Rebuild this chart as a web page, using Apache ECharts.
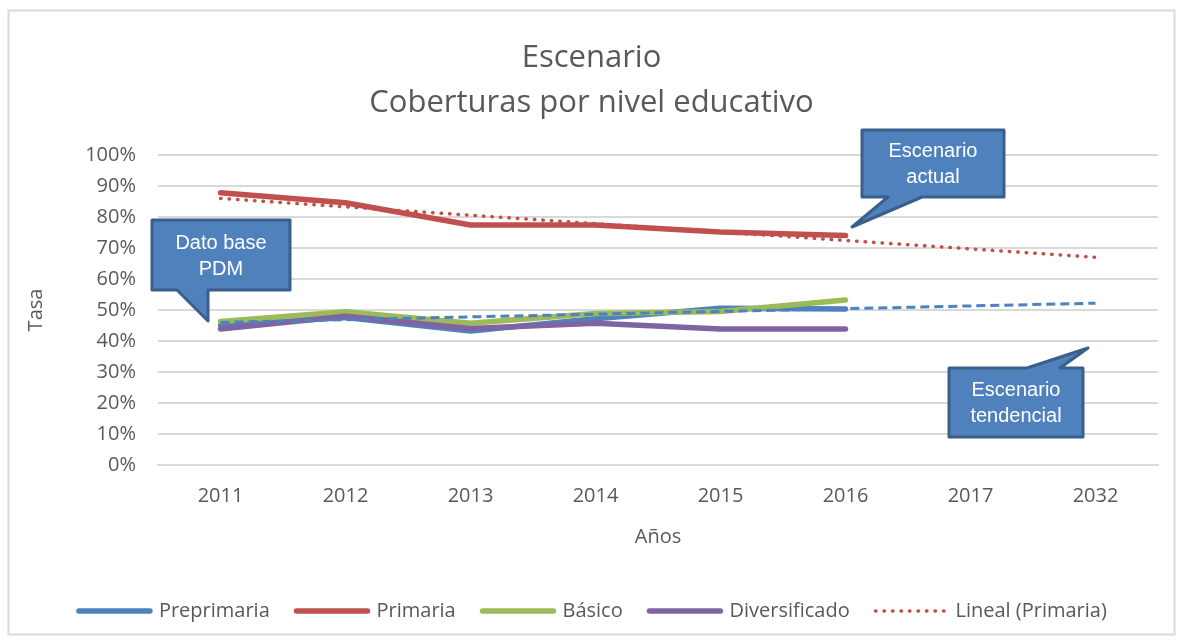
<!DOCTYPE html>
<html>
<head>
<meta charset="utf-8">
<script src="https://cdn.jsdelivr.net/npm/echarts@6/dist/echarts.min.js"></script>
<style>
  html, body { margin: 0; padding: 0; background: #fff; }
  #chart { width: 1183px; height: 641px; }
</style>
</head>
<body>
<div id="chart"></div>
<script>
const years = ['2011', '2012', '2013', '2014', '2015', '2016', '2017', '2032']
const preprimaria = [45.2, 47.6, 43.2, 47.2, 50.6, 50.3]
const primaria = [87.8, 84.6, 77.4, 77.4, 75.2, 74.0]
const basico = [46.3, 49.4, 45.7, 48.9, 49.5, 53.2]
const diversificado = [43.9, 48.0, 44.0, 45.7, 43.9, 43.9]
// trendlines read at both ends, straight line in between
const linealPrimaria = [86.0, null, null, null, null, null, null, 67.0]
const linealPreprimaria = [46.0, null, null, null, null, null, null, 52.2]
const yTicks = { min: 0, max: 100, interval: 10 }

const font = '"Open Sans", "Noto Sans", sans-serif'
const calloutFont = '"Liberation Sans Narrow", "Liberation Sans", sans-serif'
const grey = '#595959'

function solid(name, data, color) {
  return {
    name: name,
    type: 'line',
    data: data,
    symbol: 'none',
    color: color,
    lineStyle: { width: 5.5, color: color, cap: 'round', join: 'round' }
  }
}

function legendItem(name, color) {
  return {
    name: name,
    itemStyle: { opacity: 0 },
    lineStyle: { width: 5.5, color: color, cap: 'round' }
  }
}

function callout(points, lines, cx, cy) {
  return [{
    type: 'polygon',
    shape: { points: points },
    style: { fill: '#4f81bd', stroke: '#3a5f8b', lineWidth: 3, lineJoin: 'round' },
    z: 100
  }, {
    type: 'text',
    x: cx,
    y: cy,
    style: {
      text: lines,
      fill: '#fff',
      font: '20px ' + calloutFont,
      align: 'center',
      verticalAlign: 'middle',
      lineHeight: 26
    },
    z: 101
  }]
}

const myChart = echarts.init(document.getElementById('chart'))
myChart.setOption({
  animation: false,
  backgroundColor: '#fff',
  title: {
    text: 'Escenario\nCoberturas por nivel educativo',
    left: 'center',
    top: 31,
    textStyle: {
      fontFamily: font,
      fontSize: 31,
      fontWeight: 'normal',
      color: grey,
      lineHeight: 45
    }
  },
  legend: {
    data: [
      legendItem('Preprimaria', '#4f81bd'),
      legendItem('Primaria', '#c0504d'),
      legendItem('Básico', '#9bbb59'),
      legendItem('Diversificado', '#8064a2'),
      {
        name: 'Lineal (Primaria)',
        itemStyle: { opacity: 0 },
        lineStyle: { width: 3.5, color: '#c0504d', type: [0.5, 8], cap: 'round' }
      }
    ],
    left: 'center',
    top: 596,
    itemWidth: 71,
    itemHeight: 20,
    itemGap: 24,
    textStyle: { fontFamily: font, fontSize: 20, color: grey, padding: [0, 0, 0, 4] }
  },
  grid: {
    left: 158,
    right: 25,
    top: 155,
    bottom: 176
  },
  xAxis: {
    type: 'category',
    data: years,
    name: 'Años',
    nameLocation: 'middle',
    nameGap: 62,
    nameTextStyle: { fontFamily: font, fontSize: 20, color: grey },
    axisLine: { lineStyle: { color: '#d9d9d9', width: 2 } },
    axisTick: { show: false },
    axisLabel: { margin: 21, fontFamily: font, fontSize: 20, color: grey }
  },
  yAxis: {
    type: 'value',
    min: yTicks.min,
    max: yTicks.max,
    interval: yTicks.interval,
    name: 'Tasa',
    nameLocation: 'middle',
    nameGap: 112,
    nameRotate: 90,
    nameTextStyle: { fontFamily: font, fontSize: 20, color: grey },
    axisLine: { show: false },
    axisTick: { show: false },
    axisLabel: { margin: 22, formatter: '{value}%', fontFamily: font, fontSize: 20, color: grey },
    splitLine: { lineStyle: { color: '#d9d9d9', width: 2 } }
  },
  series: [
    solid('Preprimaria', preprimaria, '#4f81bd'),
    solid('Primaria', primaria, '#c0504d'),
    solid('Básico', basico, '#9bbb59'),
    solid('Diversificado', diversificado, '#8064a2'),
    {
      name: 'Lineal (Primaria)',
      type: 'line',
      data: linealPrimaria,
      connectNulls: true,
      symbol: 'none',
      color: '#c0504d',
      lineStyle: { width: 3.5, color: '#c0504d', type: [0.5, 8], cap: 'round' },
      z: 3
    },
    {
      name: 'Lineal (Preprimaria)',
      type: 'line',
      data: linealPreprimaria,
      connectNulls: true,
      symbol: 'none',
      color: '#4f81bd',
      lineStyle: { width: 3, color: '#4f81bd', type: [9, 5] },
      z: 3
    }
  ],
  graphic: [
    {
      type: 'rect',
      shape: { x: 8.5, y: 10.5, width: 1166, height: 624 },
      style: { fill: null, stroke: '#d9d9d9', lineWidth: 2 },
      silent: true
    }
  ]
    .concat(callout([[152, 220], [290, 220], [290, 290], [208, 290], [208, 321], [177, 290], [152, 290]],
      'Dato base\nPDM', 221, 256))
    .concat(callout([[862, 130], [1004, 130], [1004, 197], [922, 197], [852, 227], [888, 197], [862, 197]],
      'Escenario\nactual', 933, 164))
    .concat(callout([[949, 368], [1027, 368], [1088, 348], [1060, 368], [1083, 368], [1083, 437], [949, 437]],
      'Escenario\ntendencial', 1016, 403))
})
</script>
</body>
</html>
